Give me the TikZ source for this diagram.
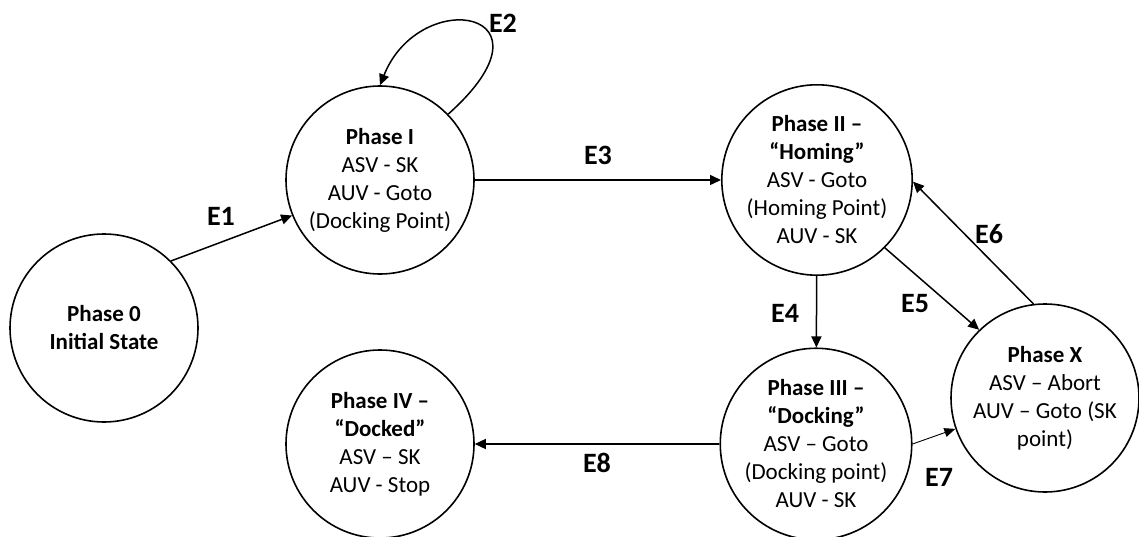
\documentclass[tikz,border=0pt]{standalone}
\usepackage{fontspec}
\setmainfont{Carlito}
\usetikzlibrary{arrows.meta}
\begin{document}
\begin{tikzpicture}[x=1pt,y=-1pt,
  phase/.style={circle,draw,line width=1.6pt,minimum size=188pt,inner sep=0pt,align=center,font=\fontsize{23}{28}\selectfont},
  edge/.style={line width=1.5pt,-{Triangle[length=11pt,width=10pt]}},
  thinedge/.style={line width=0.9pt,-{Triangle[length=11pt,width=9pt]}},
  elabel/.style={font=\fontsize{28}{32}\selectfont\bfseries,inner sep=0pt}]
\useasboundingbox (0,0) rectangle (1139,537);
\node[phase] (p0) at (104,328) {\textbf{Phase 0}\\\textbf{Initial State}};
\node[phase] (p1) at (380,180) {\textbf{Phase I}\\ASV - SK\\AUV - Goto\\(Docking Point)};
\node[phase] (p2) at (817,180) {\textbf{Phase II –}\\\textbf{“Homing”}\\ASV - Goto\\(Homing Point)\\AUV - SK};
\node[phase] (p3) at (816,444) {\textbf{Phase III –}\\\textbf{“Docking”}\\ASV – Goto\\(Docking point)\\AUV - SK};
\node[phase] (p4) at (380,444) {\textbf{Phase IV –}\\\textbf{“Docked”}\\ASV – SK\\AUV - Stop};
\node[phase] (px) at (1045,398) {\textbf{Phase X}\\ASV – Abort\\AUV – Goto (SK\\point)};
\draw[edge] (p0.45) -- (p1.202);
\draw[edge] (p1.44) .. controls (565,10) and (420,-15) .. (p1.90);
\draw[edge] (p1) -- (p2);
\draw[edge] (p2) -- (p3);
\draw[edge] (p2.-45) -- (px.134);
\draw[edge] (px.97) -- (p2.-1);
\draw[thinedge] (p3.0) -- (px.199);
\draw[edge] (p3) -- (p4);
\node[elabel] (e1) at (221,216) {E1};
\node[elabel] (e2) at (503,23) {E2};
\node[elabel] (e3) at (598,155) {E3};
\node[elabel] (e4) at (785,313) {E4};
\node[elabel] (e5) at (915,304) {E5};
\node[elabel] (e6) at (989,234) {E6};
\node[elabel] (e7) at (939,477) {E7};
\node[elabel] (e8) at (597,463) {E8};
\end{tikzpicture}
\end{document}
